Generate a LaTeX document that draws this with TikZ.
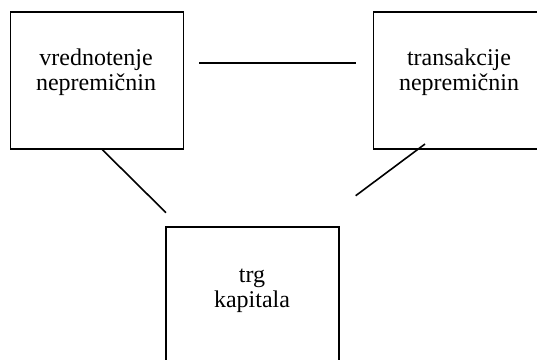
\documentclass[tikz,border=0pt]{standalone}
\usepackage{fontspec}
\setmainfont{Liberation Serif}
\begin{document}
\begin{tikzpicture}[x=1pt,y=-1pt,
  box/.style={draw=black,line width=1.6pt,rectangle,minimum width=173pt,minimum height=137pt,inner sep=0pt,anchor=north west},
  lbl/.style={align=center,font=\fontsize{24}{25.5}\selectfont,inner sep=0pt},
  link/.style={draw=black,line width=1.6pt}]
\useasboundingbox (0,0) rectangle (537,359);
% three boxes (the right and bottom ones run past the edge)
\node[box] (val) at (9.8,11) {};
\node[box] (trans) at (372.8,11) {};
\node[box] (cap) at (165.3,226) {};
% box texts
\node[lbl] (valt) at (96,72) {vrednotenje\\nepremičnin};
\node[lbl] (transt) at (459,72) {transakcije\\nepremičnin};
\node[lbl] (capt) at (252,291) {trg\\kapitala};
% loose ends of the connecting strokes
\coordinate (h1) at (199.3,63);
\coordinate (h2) at (356,63);
\coordinate (l1) at (101.7,149);
\coordinate (l2) at (166,212.7);
\coordinate (r1) at (425,144);
\coordinate (r2) at (355.7,195.7);
\draw[link] (h1) -- (h2);
\draw[link] (l1) -- (l2);
\draw[link] (r1) -- (r2);
\end{tikzpicture}
\end{document}
